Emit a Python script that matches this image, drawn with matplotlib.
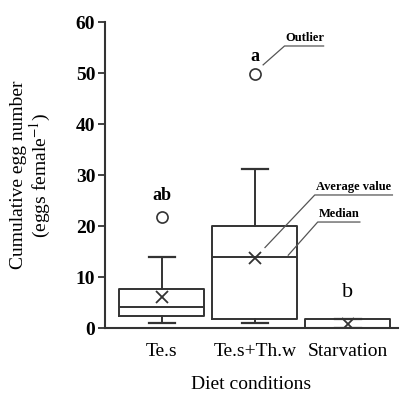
import matplotlib
matplotlib.use('Agg')
import matplotlib.pyplot as plt

plt.rcParams['font.family'] = ['Liberation Serif', 'DejaVu Serif']
plt.rcParams['mathtext.fontset'] = 'stix'

# box statistics
diets = ['Te.s', 'Te.s+Th.w', 'Starvation']
whis_lo = [1.0, 1.0, 0.0]
q1 = [2.4, 1.8, 0.0]
medians = [4.2, 14.0, 0.0]
q3 = [7.6, 20.0, 1.8]
whis_hi = [14.0, 31.2, 1.8]
means = [6.1, 13.7, 0.8]
outliers = [[21.7], [49.9], []]
letters = ['ab', 'a', 'b']
letter_y = [26.0, 53.3, 7.0]

stats = []
for i in range(len(diets)):
    stats.append(dict(label=diets[i], whislo=whis_lo[i], q1=q1[i], med=medians[i],
                      q3=q3[i], whishi=whis_hi[i], mean=means[i], fliers=outliers[i]))

fig = plt.figure(figsize=(4.0, 3.93), dpi=100)
ax = fig.add_axes([0.2625, 0.165, 0.7325, 0.779])

lc = '#333333'
pos = [1, 2, 3]
ax.bxp(stats, positions=pos, widths=0.91, capwidths=0.28, showmeans=True,
       boxprops=dict(color=lc, linewidth=1.4),
       whiskerprops=dict(color=lc, linewidth=1.4),
       capprops=dict(color=lc, linewidth=1.6),
       medianprops=dict(color=lc, linewidth=1.4),
       meanprops=dict(marker='x', markeredgecolor=lc, markersize=9, markeredgewidth=1.3),
       flierprops=dict(marker='o', markerfacecolor='white', markeredgecolor=lc,
                       markersize=8, markeredgewidth=1.2))

for p, s, y in zip(pos, letters, letter_y):
    if s == 'b':
        ax.text(p, y, s, ha='center', va='center', fontsize=16)
    else:
        ax.text(p, y, s, ha='center', va='center', fontsize=13, fontweight='bold')

# annotation callouts
gc = '#555555'
ax.plot([2.09, 2.32, 2.74], [51.6, 55.3, 55.3], color=gc, lw=0.9)
ax.text(2.33, 55.6, 'Outlier', fontsize=9, fontweight='bold', va='bottom')
ax.plot([2.11, 2.645, 3.48], [15.8, 26.1, 26.1], color=gc, lw=0.9)
ax.text(2.655, 26.4, 'Average value', fontsize=9, fontweight='bold', va='bottom')
ax.plot([2.36, 2.677, 3.13], [14.3, 20.8, 20.8], color=gc, lw=0.9)
ax.text(2.69, 21.1, 'Median', fontsize=9, fontweight='bold', va='bottom')

ax.set_xlim(0.39, 3.54)
ax.set_ylim(0, 60)
ax.set_yticks([0, 10, 20, 30, 40, 50, 60])
ax.set_xticks(pos)
ax.set_xticklabels(diets, fontsize=14)
ax.tick_params(axis='x', length=0, pad=11)
ax.tick_params(axis='y', length=5, width=1.3, color=lc, labelsize=14, pad=2)
for lab in ax.get_yticklabels():
    lab.set_fontweight('bold')
for sp in ['top', 'right']:
    ax.spines[sp].set_visible(False)
for sp in ['left', 'bottom']:
    ax.spines[sp].set_linewidth(1.5)
    ax.spines[sp].set_color(lc)
ax.set_ylabel('Cumulative egg number\n(eggs female$^{-1}$)', fontsize=14, linespacing=1.05)
ax.yaxis.set_label_coords(-0.177, 0.5)
ax.set_xlabel('Diet conditions', fontsize=14, labelpad=11)

fig.savefig('out.png', dpi=100)
